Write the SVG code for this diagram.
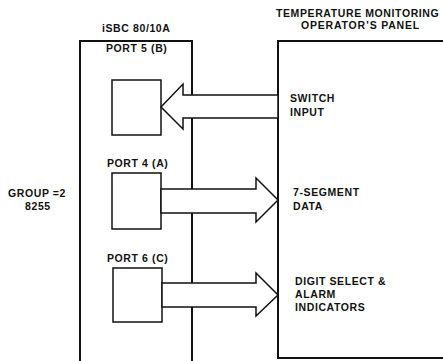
<svg xmlns="http://www.w3.org/2000/svg" width="443" height="361" viewBox="0 0 443 361">
<style>
text{font-family:"Liberation Sans",Arial,sans-serif;font-size:10.5px;font-weight:bold;letter-spacing:0.6px;fill:#111}
.wide{letter-spacing:0.8px}
.box{fill:none;stroke:#111;stroke-width:2}
.port{fill:#fff;stroke:#111;stroke-width:1.5}
.arr{fill:#fff;stroke:#111;stroke-width:1.5;stroke-linejoin:miter}
</style>
<rect width="443" height="361" fill="#fff"/>
<g id="isbc">
<rect class="box" x="80" y="41" width="112" height="323"/>
<text x="102" y="32">iSBC 80/10A</text>
</g>
<g id="panel">
<rect class="box" x="278" y="41" width="175" height="317"/>
<text x="276" y="17">TEMPERATURE MONITORING</text>
<text class="wide" x="301" y="29">OPERATOR’S PANEL</text>
<text x="290" y="102">SWITCH</text>
<text x="290" y="116">INPUT</text>
<text x="293" y="196">7-SEGMENT</text>
<text x="293" y="210">DATA</text>
<text x="295" y="285">DIGIT SELECT &amp;</text>
<text x="295" y="298">ALARM</text>
<text x="295" y="311">INDICATORS</text>
</g>
<g id="group-label">
<text x="8" y="197">GROUP =2</text>
<text x="25" y="210">8255</text>
</g>
<g id="port5">
<rect class="port" x="112" y="80" width="49" height="55"/>
<text x="106" y="52">PORT 5 (B)</text>
</g>
<g id="port4">
<rect class="port" x="112" y="173" width="49" height="56"/>
<text x="107" y="167">PORT 4 (A)</text>
</g>
<g id="port6">
<rect class="port" x="113" y="268" width="49" height="54"/>
<text x="107" y="262">PORT 6 (C)</text>
</g>
<g id="connectors">
<polygon class="arr" points="278,95 183,95 183,84 161,107 183,129 183,118 278,118"/>
<polygon class="arr" points="161,189 256,189 256,178 278,200 256,222 256,213 161,213"/>
<polygon class="arr" points="162,283 256,283 256,273 278,295 256,316 256,307 162,307"/>
</g>
</svg>
